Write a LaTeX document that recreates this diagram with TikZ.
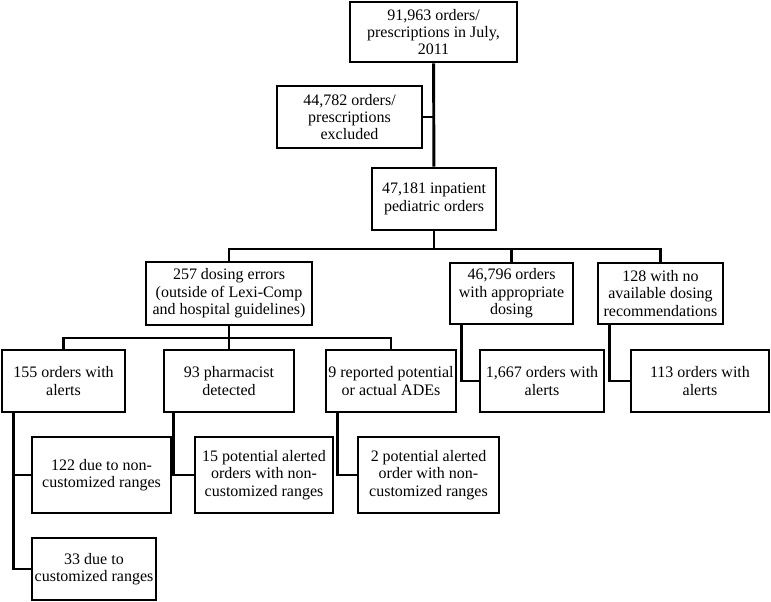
\documentclass[tikz,border=0pt]{standalone}
\usepackage{fontspec}
\setmainfont{Liberation Serif}
\begin{document}
\begin{tikzpicture}[x=0.75pt,y=0.75pt,yscale=-1,xscale=1,
		flowbox/.style={draw, line width=2.2pt, align=center, inner sep=0pt, font=\fontsize{12}{13}\selectfont},
		bw/.style 2 args={minimum width=#1*0.75pt, minimum height=#2*0.75pt},
		link/.style={line width=2.2pt}]
		\useasboundingbox (0,0) rectangle (771,602);

		% Node: total orders
		\node [flowbox, bw={167}{60}] (total) at (433.5,32) {91,963 orders/\\prescriptions in July,\\2011};
		% Node: excluded
		\node [flowbox, bw={145}{62}] (excl) at (349.5,117) {44,782 orders/\\prescriptions\\excluded};
		% Node: inpatient
		\node [flowbox, bw={124}{62}] (inpat) at (434,199) {47,181 inpatient\\pediatric orders};

		% Node: second row
		\node [flowbox, bw={166}{63}] (dose) at (229,293.5) {257 dosing errors\\(outside of Lexi-Comp\\and hospital guidelines)};
		\node [flowbox, bw={123}{61}] (approp) at (511.5,293.5) {46,796 orders\\with appropriate\\dosing};
		\node [flowbox, bw={125}{61}] (norec) at (660.5,293.5) {128 with no\\available dosing\\recommendations};

		% Node: third row
		\node [flowbox, bw={123}{62}] (alertA) at (63.5,381) {155 orders with\\alerts};
		\node [flowbox, bw={130}{62}] (pharm) at (229,381) {93 pharmacist\\detected};
		\node [flowbox, bw={130}{62}] (ade) at (391,381) {9 reported potential\\or actual ADEs};
		\node [flowbox, bw={124}{62}] (alertB) at (542,381) {1,667 orders with\\alerts};
		\node [flowbox, bw={138}{62}] (alertC) at (700,381) {113 orders with\\alerts};

		% Node: fourth row
		\node [flowbox, bw={139}{76}] (noncust) at (101.5,475) {122 due to non-\\customized ranges};
		\node [flowbox, bw={138}{76}] (potA) at (264,475) {15 potential alerted\\orders with non-\\customized ranges};
		\node [flowbox, bw={141}{76}] (potB) at (428.5,475) {2 potential alerted\\order with non-\\customized ranges};
		\node [flowbox, bw={124}{62}] (cust) at (94,569) {33 due to\\customized ranges};

		% Connectors
		\coordinate (busA) at (434,249);
		\coordinate (busB) at (229,338);
		\draw [link] (total) -- (inpat);
		\draw [link] (excl.east) -- (excl.east -| total.south);
		\draw [link] (inpat) -- (busA);
		\draw [link] (dose.north) |- (busA) -| (norec.north);
		\draw [link] (busA) -| (approp.north);
		\draw [link] (dose) -- (busB);
		\draw [link] (alertA.north) |- (busB) -| (ade.north);
		\draw [link] (busB) -- (pharm);
		\draw [link] (alertA.south west) ++(13,0) |- (noncust.west);
		\draw [link] (alertA.south west) ++(13,0) |- (cust.west);
		\draw [link] (pharm.south west) ++(11,0) |- (potA.west);
		\draw [link] (ade.south west) ++(13,0) |- (potB.west);
		\draw [link] (approp.south west) ++(13,0) |- (alertB.west);
		\draw [link] (norec.south west) ++(13,0) |- (alertC.west);

\end{tikzpicture}
\end{document}
